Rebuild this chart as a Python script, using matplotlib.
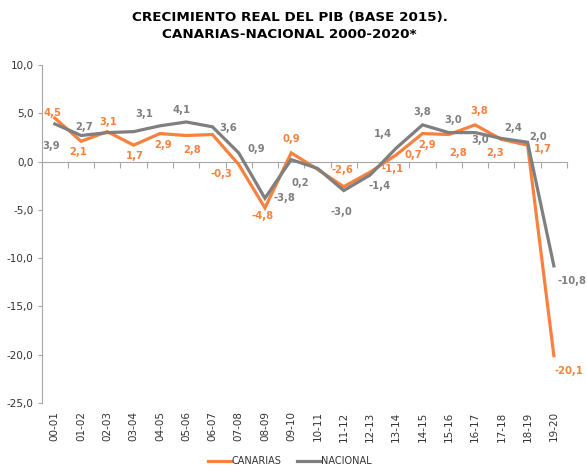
import matplotlib
matplotlib.use("Agg")
import matplotlib.pyplot as plt

categories = ["00-01", "01-02", "02-03", "03-04", "04-05", "05-06", "06-07", "07-08",
              "08-09", "09-10", "10-11", "11-12", "12-13", "13-14", "14-15", "15-16",
              "16-17", "17-18", "18-19", "19-20"]
canarias = [4.5, 2.1, 3.1, 1.7, 2.9, 2.7, 2.8, -0.3, -4.8, 0.9, -0.8, -2.6, -1.1, 0.7,
            2.9, 2.8, 3.8, 2.3, 1.7, -20.1]
nacional = [3.9, 2.7, 3.0, 3.1, 3.7, 4.1, 3.6, 0.9, -3.8, 0.2, -0.7, -3.0, -1.4, 1.4,
            3.8, 3.0, 3.0, 2.4, 2.0, -10.8]
yticks = [10, 5, 0, -5, -10, -15, -20, -25]

# label offsets in pixels (dx, dy)
can_off = {0: (-2, 5), 1: (-3, -11), 2: (1, 10), 3: (1, -11), 4: (3, -11.5),
           6: (-20, -15.5), 7: (-17, -10), 8: (-2, -8), 9: (0, 14), 11: (-1, 17),
           12: (23, 3), 13: (17, 0), 14: (5, -11.5), 15: (9, -18), 16: (4, 14),
           17: (-6, -14), 18: (15, -4), 19: (15, -15)}
nac_off = {0: (-4, -22), 1: (3, 8), 3: (11, 18), 5: (-5, 12), 6: (16, -1), 7: (18, 4),
           8: (19, 0), 9: (9, -23), 11: (-2, -21.5), 12: (10, -11), 13: (-13, 14),
           14: (0, 13), 15: (4, 12.5), 16: (5, -7.5), 17: (12, 10), 18: (10, 5),
           19: (18, -15)}

ORANGE = "#F7813E"
GREY = "#7F7F7F"

fig = plt.figure(figsize=(5.87, 4.68), dpi=100)
ax = fig.add_axes([41.7 / 587, 1 - 403 / 468, (567 - 41.7) / 587, (403 - 65) / 468])

x = list(range(len(categories)))
ax.plot(x, canarias, color=ORANGE, lw=2.3, label="CANARIAS", solid_joinstyle="miter", zorder=3)
ax.plot(x, nacional, color=GREY, lw=2.3, label="NACIONAL", solid_joinstyle="miter", zorder=3)

def fmt(v):
    return f"{v:.1f}".replace(".", ",")

for i, (dx, dy) in can_off.items():
    ax.annotate(fmt(canarias[i]), (i, canarias[i]), xytext=(dx, dy), textcoords="offset pixels",
                ha="center", va="center", color=ORANGE, fontsize=7.2, fontweight="bold",
                annotation_clip=False)
for i, (dx, dy) in nac_off.items():
    ax.annotate(fmt(nacional[i]), (i, nacional[i]), xytext=(dx, dy), textcoords="offset pixels",
                ha="center", va="center", color=GREY, fontsize=7.2, fontweight="bold",
                annotation_clip=False)

ax.set_xlim(-0.5, len(categories) - 0.5)
ax.set_ylim(-25, 10)
ax.set_yticks(yticks)
ax.set_yticklabels([fmt(v) for v in yticks], fontsize=7.5, color="#333333")
ax.tick_params(axis="y", length=3, color="#A6A6A6", pad=3)

for s in ["top", "right"]:
    ax.spines[s].set_visible(False)
ax.spines["left"].set_color("#A6A6A6")
ax.spines["bottom"].set_position(("data", 0))
ax.spines["bottom"].set_color("#A6A6A6")
ax.set_xticks([i + 0.5 for i in range(-1, len(categories))])
ax.set_xticklabels([])
ax.tick_params(axis="x", length=4, direction="out", color="#A6A6A6")

sec = ax.secondary_xaxis(0.0)
sec.set_xticks(x)
sec.set_xticklabels(categories, rotation=90, fontsize=7.5, color="#333333")
sec.tick_params(length=0, pad=6)
sec.spines["bottom"].set_visible(False)

fig.legend(loc="center", bbox_to_anchor=(290 / 587, 1 - 461 / 468), ncol=2, frameon=False,
           fontsize=7, handlelength=2.4, handletextpad=0.05, columnspacing=1.6,
           labelcolor="#333333")

fig.text(289.5 / 587, 1 - 18 / 468, "CRECIMIENTO REAL DEL PIB (BASE 2015).",
         ha="center", va="center", fontsize=9.7, fontweight="bold")
fig.text(289.5 / 587, 1 - 35 / 468, "CANARIAS-NACIONAL 2000-2020*",
         ha="center", va="center", fontsize=9.7, fontweight="bold")

fig.savefig("out.png", dpi=100)
